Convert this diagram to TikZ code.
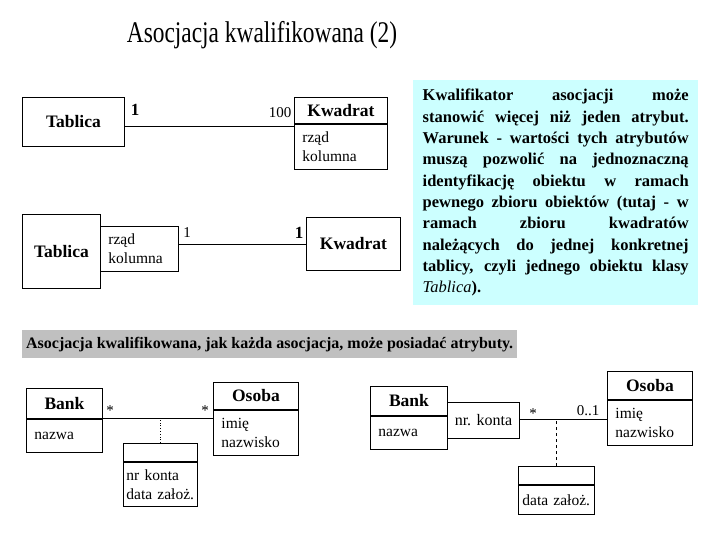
\documentclass[tikz,border=0pt]{standalone}
\usepackage{fontspec}
\setmainfont{Liberation Serif}
\newfontfamily\titlefont[FakeStretch=0.78]{Liberation Serif}
\usetikzlibrary{positioning}
\definecolor{ink}{HTML}{000000}
\definecolor{notecyan}{HTML}{CCFFFF}
\definecolor{bannergray}{HTML}{C0C0C0}

\begin{document}
\begin{tikzpicture}[x=1pt,y=-1pt,
    box/.style={draw=ink,line width=0.9pt,anchor=north west,inner sep=0pt},
    clsname/.style={font=\fontsize{17.5}{20}\selectfont\bfseries,text=ink},
    attrs/.style={font=\fontsize{15.5}{19}\selectfont,text=ink,align=left,text width=#1,inner xsep=8pt},
    mult/.style={font=\fontsize{15}{18}\selectfont,text=ink}]
  \fill[white] (0,0) rectangle (720,540);
  \useasboundingbox (0,0) rectangle (720,540);
  \node[font=\titlefont\fontsize{30}{34}\selectfont,text=ink] (title) at (262,35) {Asocjacja kwalifikowana (2)};

  % Tablica -- Kwadrat
  \node[box,clsname,minimum width=102pt,minimum height=49pt] (tabA) at (22,97) {Tablica};
  \node[box,clsname,minimum width=93pt,minimum height=26pt] (kwA) at (294,97) {Kwadrat};
  \node[box,attrs=77pt,minimum width=93pt,minimum height=45pt,below=0pt of kwA] (kwAattr) {rząd\\kolumna};
  \draw[line width=0.9pt] ([yshift=-4.5pt]tabA.east) coordinate (tabAend) -- (tabAend -| kwA.west);
  \node[mult,font=\fontsize{17}{18}\selectfont\bfseries] (multA1) at (135,110) {1};
  \node[mult] (multA2) at (280,113) {100};

  % Tablica [rzad, kolumna] -- Kwadrat
  \node[box,clsname,minimum width=78pt,minimum height=74pt] (tabB) at (22,214) {Tablica};
  \node[box,attrs=62pt,minimum width=78pt,minimum height=45pt] (tabBqual) at (100,226) {rząd\\kolumna};
  \node[box,clsname,minimum width=94pt,minimum height=53pt] (kwB) at (306,217) {Kwadrat};
  \draw[line width=0.9pt] (kwB.west -| tabBqual.east) -- (kwB.west);
  \node[mult] (multB1) at (187,233) {1};
  \node[mult,font=\fontsize{17}{18}\selectfont\bfseries] (multB2) at (299,233) {1};

  % opis
  \node[anchor=north west,fill=notecyan,minimum width=285pt,minimum height=225pt,text width=266pt,
        align=justify,font=\fontsize{16.5}{21.3}\selectfont\bfseries,text=ink] (note) at (413,80)
    {\tolerance=10000 Kwalifikator asocjacji może\linebreak
     stanowić więcej niż jeden atrybut.\linebreak
     Warunek - wartości tych atrybutów\linebreak
     muszą pozwolić na jednoznaczną\linebreak
     identyfikację obiektu w ramach\linebreak
     pewnego zbioru obiektów (tutaj - w\linebreak
     ramach zbioru kwadratów\linebreak
     należących do jednej konkretnej\linebreak
     tablicy, czyli jednego obiektu klasy\linebreak
     {\mdseries\itshape Tablica}).};

  \node[anchor=north west,fill=bannergray,minimum width=495pt,minimum height=28pt,
        font=\fontsize{16}{18}\selectfont\bfseries,text=ink] (banner) at (22,330)
    {Asocjacja kwalifikowana, jak każda asocjacja, może posiadać atrybuty.};

  % Bank * -- * Osoba, klasa asocjacji
  \node[box,clsname,minimum width=76pt,minimum height=30pt] (bankL) at (26,388) {Bank};
  \node[box,attrs=60pt,minimum width=76pt,minimum height=33pt,below=0pt of bankL] (bankLattr) {nazwa};
  \node[box,clsname,minimum width=85pt,minimum height=27pt] (osobaL) at (213,382) {Osoba};
  \node[box,attrs=69pt,minimum width=85pt,minimum height=45pt,below=0pt of osobaL] (osobaLattr) {imię\\nazwisko};
  \draw[line width=0.9pt] (bankL.south east) -- (bankL.south east -| osobaLattr.west);
  \node[mult] (multL1) at (110,411) {*};
  \node[mult] (multL2) at (205,411) {*};
  \node[box,minimum width=74pt,minimum height=18pt] (assocL) at (123,443) {};
  \node[box,attrs=68pt,inner xsep=3pt,minimum width=74pt,minimum height=44pt,below=0pt of assocL] (assocLattr) {nr konta\\data założ.};
  \draw[line width=0.8pt,dotted] (assocL.north) -- (assocL.north |- bankL.south);

  % Bank [nr. konta] * -- 0..1 Osoba
  \node[box,clsname,minimum width=77pt,minimum height=29pt] (bankR) at (370,386) {Bank};
  \node[box,attrs=61pt,minimum width=77pt,minimum height=33pt,below=0pt of bankR] (bankRattr) {nazwa};
  \node[box,font=\fontsize{16}{18}\selectfont,text=ink,minimum width=72pt,minimum height=36pt] (bankRqual) at (447,402) {nr. konta};
  \node[box,clsname,minimum width=85pt,minimum height=28pt] (osobaR) at (607,371) {Osoba};
  \node[box,attrs=69pt,inner xsep=7pt,minimum width=85pt,minimum height=45pt,below=0pt of osobaR] (osobaRattr) {imię\\nazwisko};
  \draw[line width=0.9pt] ([yshift=1pt]bankRqual.east) coordinate (qualend) -- (qualend -| osobaRattr.west);
  \node[mult] (multR1) at (533,414) {*};
  \node[mult,anchor=east] (multR2) at (603,411) {0..1};
  \node[box,minimum width=76pt,minimum height=18pt] (assocR) at (518,466) {};
  \node[box,attrs=68pt,inner xsep=4pt,minimum width=76pt,minimum height=29pt,below=0pt of assocR] (assocRattr) {data założ.};
  \draw[line width=0.8pt,dashed] (assocR.north) -- (assocR.north |- qualend);
\end{tikzpicture}
\end{document}
